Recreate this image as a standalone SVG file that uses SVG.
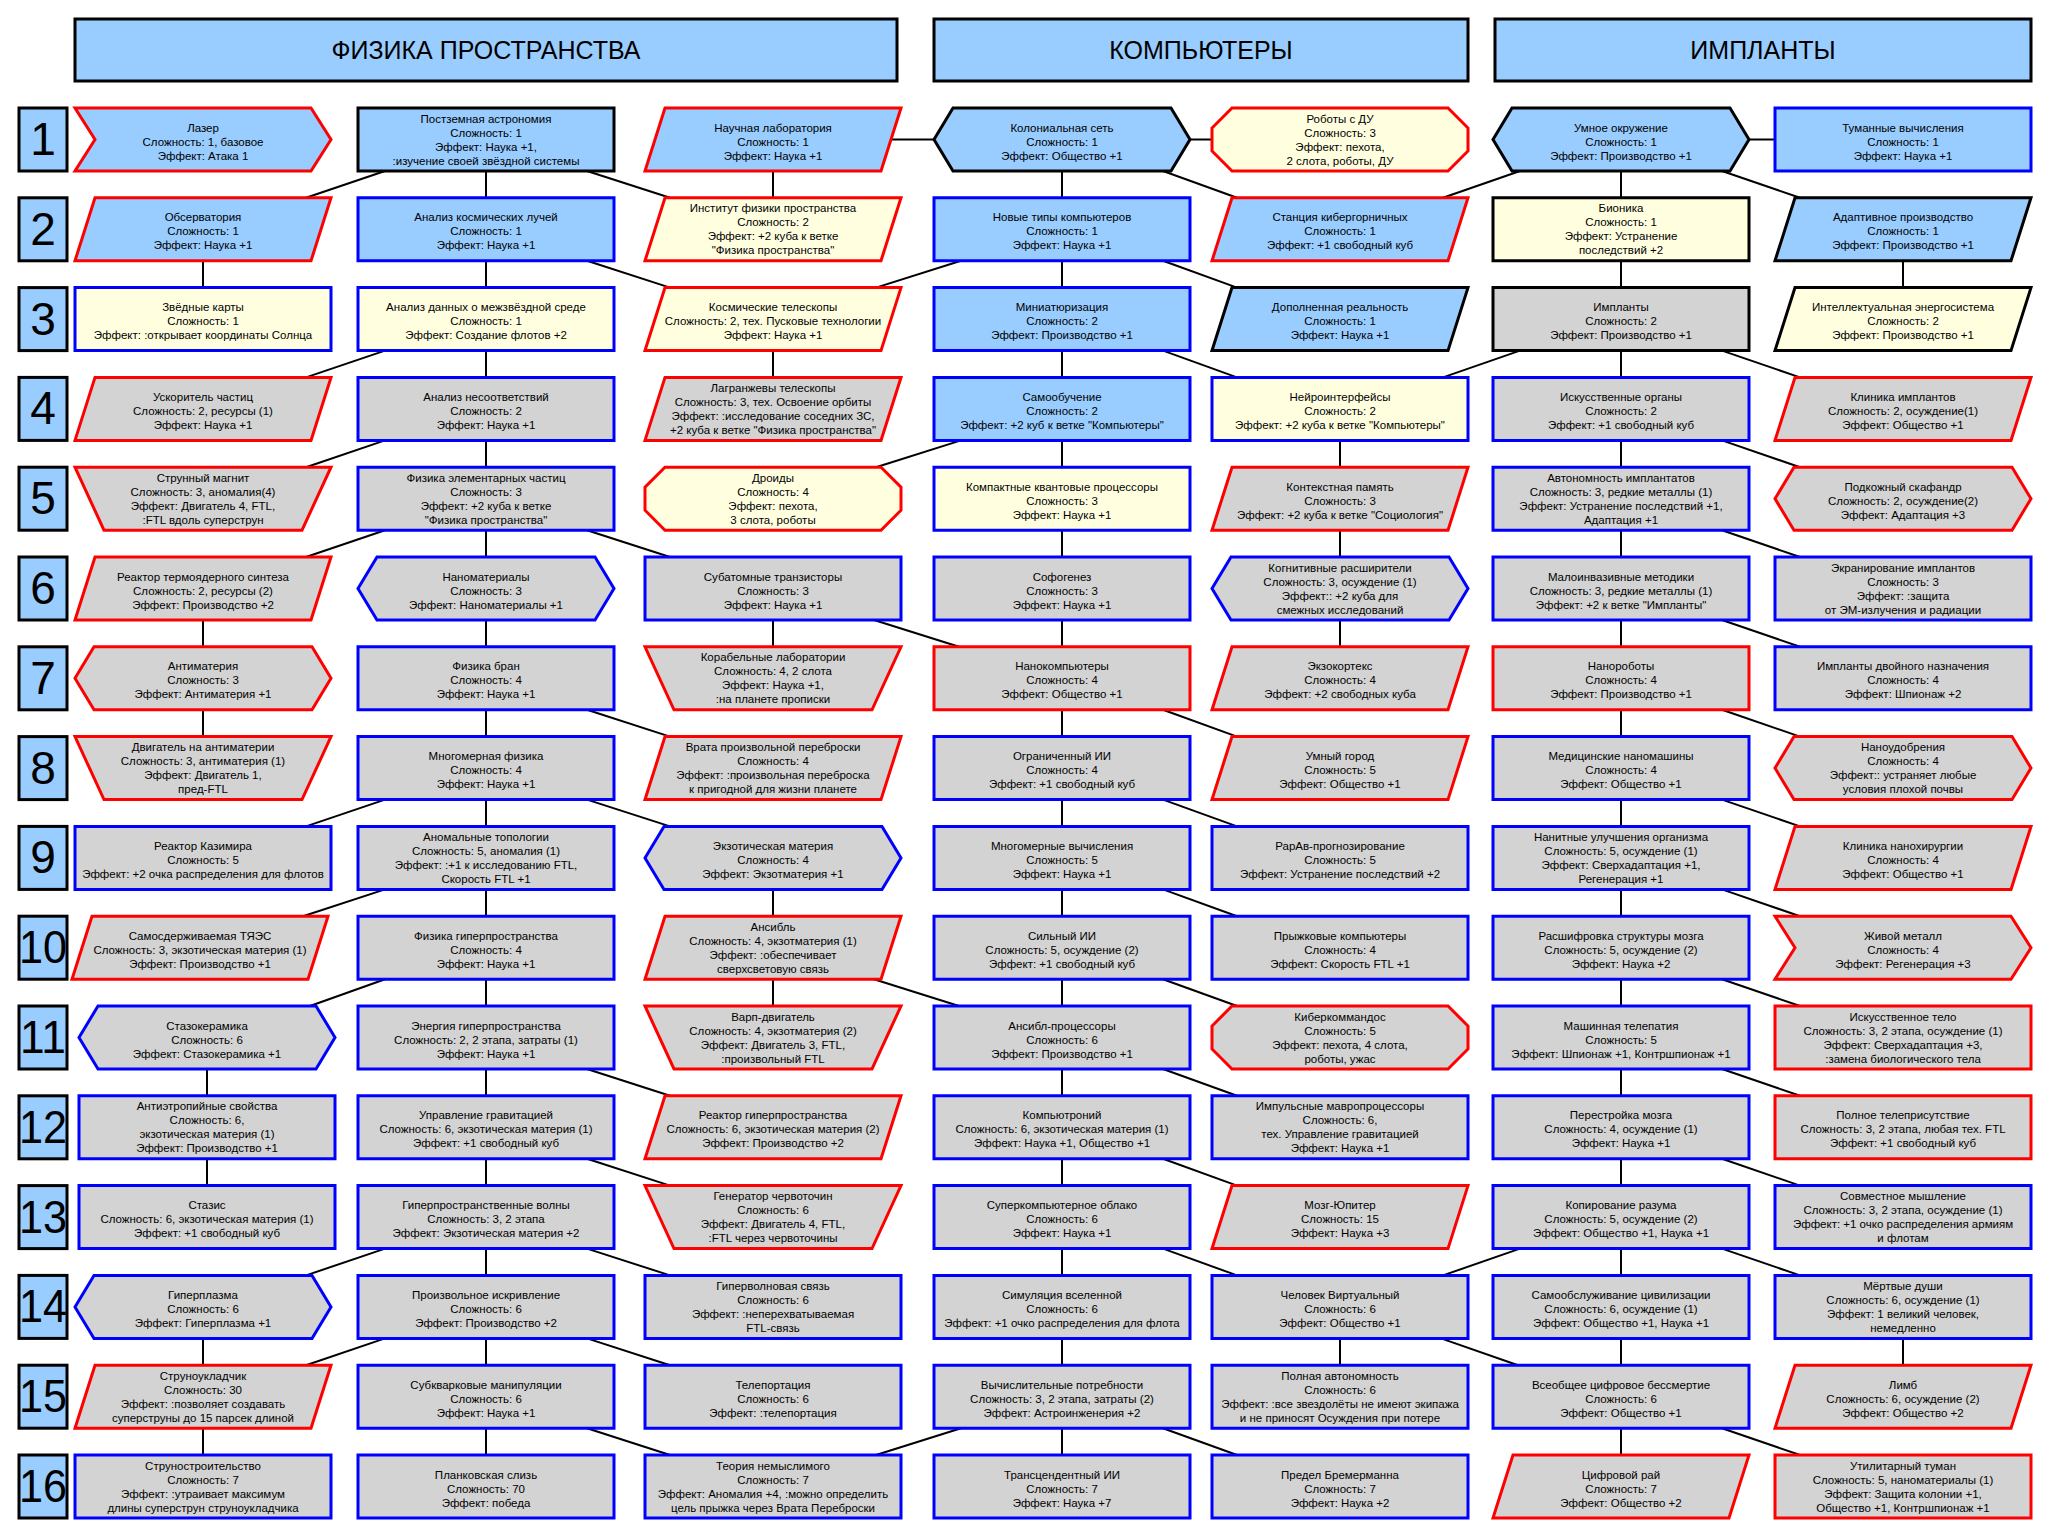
<svg xmlns="http://www.w3.org/2000/svg" width="2061" height="1535" viewBox="0 0 2061 1535">
<style>
.fb{fill:#99CCFF}.fy{fill:#FFFFE0}.fg{fill:#D3D3D3}
.sr{stroke:#FF0000}.sb{stroke:#0000FF}.sk{stroke:#000000}
use{stroke-width:3;stroke-linejoin:miter}
.t{font-family:"Liberation Sans",Arial,sans-serif;font-size:11.5px;text-anchor:middle;fill:#000}
.conn line{stroke:#000;stroke-width:2}
.hdr rect,.num rect{fill:#99CCFF;stroke:#000;stroke-width:3}
.hdr text{font-family:"Liberation Sans",Arial,sans-serif;font-size:25px;text-anchor:middle;fill:#000}
.num text{font-family:"Liberation Sans",Arial,sans-serif;font-size:46px;text-anchor:middle;fill:#000}
</style>
<defs>
<path id="s-rect" d="M0,0H256V63H0Z"/>
<path id="s-para" d="M20,0H256L236,63H0Z"/>
<path id="s-trap" d="M0,0H256L227,63H29Z"/>
<path id="s-hex" d="M0,31.5L19,0H237L256,31.5L237,63H19Z"/>
<path id="s-oct" d="M20,0H236L256,20V43L236,63H20L0,43V20Z"/>
<path id="s-chev" d="M0,0H236L256,31.5L236,63H0L20,31.5Z"/>
</defs>
<rect width="2061" height="1535" fill="#fff"/>
<g id="headers" class="hdr">
<g id="h-phys"><rect x="75" y="19" width="822" height="62"/><text x="486" y="59">ФИЗИКА ПРОСТРАНСТВА</text></g>
<g id="h-comp"><rect x="934" y="19" width="534" height="62"/><text x="1201" y="59">КОМПЬЮТЕРЫ</text></g>
<g id="h-impl"><rect x="1495" y="19" width="536" height="62"/><text x="1763" y="59">ИМПЛАНТЫ</text></g>
</g>
<g id="rows" class="num">
<g id="row1"><rect x="19" y="108" width="48" height="63"/><text x="43" y="155">1</text></g>
<g id="row2"><rect x="19" y="197.8" width="48" height="63"/><text x="43" y="244.8">2</text></g>
<g id="row3"><rect x="19" y="287.6" width="48" height="63"/><text x="43" y="334.6">3</text></g>
<g id="row4"><rect x="19" y="377.4" width="48" height="63"/><text x="43" y="424.4">4</text></g>
<g id="row5"><rect x="19" y="467.2" width="48" height="63"/><text x="43" y="514.2">5</text></g>
<g id="row6"><rect x="19" y="557" width="48" height="63"/><text x="43" y="604">6</text></g>
<g id="row7"><rect x="19" y="646.8" width="48" height="63"/><text x="43" y="693.8">7</text></g>
<g id="row8"><rect x="19" y="736.6" width="48" height="63"/><text x="43" y="783.6">8</text></g>
<g id="row9"><rect x="19" y="826.4" width="48" height="63"/><text x="43" y="873.4">9</text></g>
<g id="row10"><rect x="19" y="916.2" width="48" height="63"/><text x="43" y="963.2" textLength="48" lengthAdjust="spacingAndGlyphs">10</text></g>
<g id="row11"><rect x="19" y="1006" width="48" height="63"/><text x="43" y="1053" textLength="46" lengthAdjust="spacingAndGlyphs">11</text></g>
<g id="row12"><rect x="19" y="1095.8" width="48" height="63"/><text x="43" y="1142.8" textLength="48" lengthAdjust="spacingAndGlyphs">12</text></g>
<g id="row13"><rect x="19" y="1185.6" width="48" height="63"/><text x="43" y="1232.6" textLength="48" lengthAdjust="spacingAndGlyphs">13</text></g>
<g id="row14"><rect x="19" y="1275.4" width="48" height="63"/><text x="43" y="1322.4" textLength="48" lengthAdjust="spacingAndGlyphs">14</text></g>
<g id="row15"><rect x="19" y="1365.2" width="48" height="63"/><text x="43" y="1412.2" textLength="48" lengthAdjust="spacingAndGlyphs">15</text></g>
<g id="row16"><rect x="19" y="1455" width="48" height="63"/><text x="43" y="1502" textLength="48" lengthAdjust="spacingAndGlyphs">16</text></g>
</g>
<g id="connectors" class="conn">
<line x1="891" y1="139.5" x2="934" y2="139.5"/>
<line x1="1190" y1="139.5" x2="1212" y2="139.5"/>
<line x1="1749" y1="139.5" x2="1775" y2="139.5"/>
<line x1="385" y1="171" x2="306" y2="197.8"/>
<line x1="385" y1="350.6" x2="306" y2="377.4"/>
<line x1="385" y1="440.4" x2="306" y2="467.2"/>
<line x1="385" y1="530.2" x2="306" y2="557"/>
<line x1="385" y1="799.6" x2="306" y2="826.4"/>
<line x1="385" y1="889.4" x2="303" y2="916.2"/>
<line x1="385" y1="979.2" x2="310" y2="1006"/>
<line x1="385" y1="1248.6" x2="306" y2="1275.4"/>
<line x1="385" y1="1338.4" x2="306" y2="1365.2"/>
<line x1="587" y1="171" x2="670" y2="197.8"/>
<line x1="587" y1="260.8" x2="670" y2="287.6"/>
<line x1="587" y1="530.2" x2="670" y2="557"/>
<line x1="587" y1="709.8" x2="670" y2="736.6"/>
<line x1="587" y1="799.6" x2="670" y2="826.4"/>
<line x1="587" y1="1069" x2="670" y2="1095.8"/>
<line x1="587" y1="1158.8" x2="670" y2="1185.6"/>
<line x1="587" y1="1248.6" x2="670" y2="1275.4"/>
<line x1="587" y1="1338.4" x2="670" y2="1365.2"/>
<line x1="587" y1="1428.2" x2="670" y2="1455"/>
<line x1="961" y1="260.8" x2="876" y2="287.6"/>
<line x1="961" y1="440.4" x2="876" y2="467.2"/>
<line x1="961" y1="1428.2" x2="876" y2="1455"/>
<line x1="874" y1="620" x2="959" y2="646.8"/>
<line x1="874" y1="979.2" x2="959" y2="1006"/>
<line x1="1163" y1="171" x2="1237" y2="197.8"/>
<line x1="1163" y1="260.8" x2="1237" y2="287.6"/>
<line x1="1163" y1="350.6" x2="1237" y2="377.4"/>
<line x1="1163" y1="709.8" x2="1237" y2="736.6"/>
<line x1="1163" y1="799.6" x2="1237" y2="826.4"/>
<line x1="1163" y1="889.4" x2="1237" y2="916.2"/>
<line x1="1163" y1="979.2" x2="1237" y2="1006"/>
<line x1="1163" y1="1069" x2="1237" y2="1095.8"/>
<line x1="1163" y1="1158.8" x2="1237" y2="1185.6"/>
<line x1="1163" y1="1248.6" x2="1237" y2="1275.4"/>
<line x1="1163" y1="1428.2" x2="1237" y2="1455"/>
<line x1="1520" y1="171" x2="1443" y2="197.8"/>
<line x1="1520" y1="350.6" x2="1443" y2="377.4"/>
<line x1="1520" y1="1248.6" x2="1443" y2="1275.4"/>
<line x1="1441" y1="1338.4" x2="1518" y2="1365.2"/>
<line x1="1722" y1="171" x2="1800" y2="197.8"/>
<line x1="1722" y1="350.6" x2="1800" y2="377.4"/>
<line x1="1722" y1="440.4" x2="1800" y2="467.2"/>
<line x1="1722" y1="530.2" x2="1800" y2="557"/>
<line x1="1722" y1="620" x2="1800" y2="646.8"/>
<line x1="1722" y1="709.8" x2="1800" y2="736.6"/>
<line x1="1722" y1="799.6" x2="1800" y2="826.4"/>
<line x1="1722" y1="889.4" x2="1800" y2="916.2"/>
<line x1="1722" y1="979.2" x2="1800" y2="1006"/>
<line x1="1722" y1="1069" x2="1800" y2="1095.8"/>
<line x1="1722" y1="1158.8" x2="1800" y2="1185.6"/>
<line x1="1722" y1="1248.6" x2="1800" y2="1275.4"/>
<line x1="1722" y1="1428.2" x2="1800" y2="1455"/>
<line x1="203" y1="260.8" x2="203" y2="287.6"/>
<line x1="203" y1="620" x2="203" y2="646.8"/>
<line x1="203" y1="709.8" x2="203" y2="736.6"/>
<line x1="207" y1="1069" x2="207" y2="1095.8"/>
<line x1="207" y1="1158.8" x2="207" y2="1185.6"/>
<line x1="203" y1="1338.4" x2="203" y2="1365.2"/>
<line x1="203" y1="1428.2" x2="203" y2="1455"/>
<line x1="486" y1="171" x2="486" y2="1455"/>
<line x1="773" y1="171" x2="773" y2="197.8"/>
<line x1="773" y1="350.6" x2="773" y2="377.4"/>
<line x1="773" y1="620" x2="773" y2="646.8"/>
<line x1="773" y1="889.4" x2="773" y2="916.2"/>
<line x1="773" y1="979.2" x2="773" y2="1006"/>
<line x1="1062" y1="171" x2="1062" y2="1455"/>
<line x1="1340" y1="440.4" x2="1340" y2="467.2"/>
<line x1="1340" y1="530.2" x2="1340" y2="557"/>
<line x1="1340" y1="620" x2="1340" y2="646.8"/>
<line x1="1340" y1="1338.4" x2="1340" y2="1365.2"/>
<line x1="1621" y1="171" x2="1621" y2="1455"/>
<line x1="1903" y1="260.8" x2="1903" y2="287.6"/>
<line x1="1903" y1="1338.4" x2="1903" y2="1365.2"/>
</g>
<g id="nodes">
<!-- Row 1 -->
<g id="r1c1" transform="translate(75,108)"><use href="#s-chev" class="fb sr"/><text class="t"><tspan x="128" y="23.5">Лазер</tspan><tspan x="128" y="37.5">Сложность: 1, базовое</tspan><tspan x="128" y="51.5">Эффект: Атака 1</tspan></text></g>
<g id="r1c2" transform="translate(358,108)"><use href="#s-rect" class="fb sk"/><text class="t"><tspan x="128" y="14.5">Постземная астрономия</tspan><tspan x="128" y="28.5">Сложность: 1</tspan><tspan x="128" y="42.5">Эффект: Наука +1,</tspan><tspan x="128" y="56.5">:изучение своей звёздной системы</tspan></text></g>
<g id="r1c3" transform="translate(645,108)"><use href="#s-para" class="fb sr"/><text class="t"><tspan x="128" y="23.5">Научная лаборатория</tspan><tspan x="128" y="37.5">Сложность: 1</tspan><tspan x="128" y="51.5">Эффект: Наука +1</tspan></text></g>
<g id="r1c4" transform="translate(934,108)"><use href="#s-hex" class="fb sk"/><text class="t"><tspan x="128" y="23.5">Колониальная сеть</tspan><tspan x="128" y="37.5">Сложность: 1</tspan><tspan x="128" y="51.5">Эффект: Общество +1</tspan></text></g>
<g id="r1c5" transform="translate(1212,108)"><use href="#s-oct" class="fy sr"/><text class="t"><tspan x="128" y="14.5">Роботы с ДУ</tspan><tspan x="128" y="28.5">Сложность: 3</tspan><tspan x="128" y="42.5">Эффект: пехота,</tspan><tspan x="128" y="56.5">2 слота, роботы, ДУ</tspan></text></g>
<g id="r1c6" transform="translate(1493,108)"><use href="#s-hex" class="fb sk"/><text class="t"><tspan x="128" y="23.5">Умное окружение</tspan><tspan x="128" y="37.5">Сложность: 1</tspan><tspan x="128" y="51.5">Эффект: Производство +1</tspan></text></g>
<g id="r1c7" transform="translate(1775,108)"><use href="#s-rect" class="fb sb"/><text class="t"><tspan x="128" y="23.5">Туманные вычисления</tspan><tspan x="128" y="37.5">Сложность: 1</tspan><tspan x="128" y="51.5">Эффект: Наука +1</tspan></text></g>
<!-- Row 2 -->
<g id="r2c1" transform="translate(75,197.8)"><use href="#s-para" class="fb sr"/><text class="t"><tspan x="128" y="23.5">Обсерватория</tspan><tspan x="128" y="37.5">Сложность: 1</tspan><tspan x="128" y="51.5">Эффект: Наука +1</tspan></text></g>
<g id="r2c2" transform="translate(358,197.8)"><use href="#s-rect" class="fb sb"/><text class="t"><tspan x="128" y="23.5">Анализ космических лучей</tspan><tspan x="128" y="37.5">Сложность: 1</tspan><tspan x="128" y="51.5">Эффект: Наука +1</tspan></text></g>
<g id="r2c3" transform="translate(645,197.8)"><use href="#s-para" class="fy sr"/><text class="t"><tspan x="128" y="14.5">Институт физики пространства</tspan><tspan x="128" y="28.5">Сложность: 2</tspan><tspan x="128" y="42.5">Эффект: +2 куба к ветке</tspan><tspan x="128" y="56.5">"Физика пространства"</tspan></text></g>
<g id="r2c4" transform="translate(934,197.8)"><use href="#s-rect" class="fb sb"/><text class="t"><tspan x="128" y="23.5">Новые типы компьютеров</tspan><tspan x="128" y="37.5">Сложность: 1</tspan><tspan x="128" y="51.5">Эффект: Наука +1</tspan></text></g>
<g id="r2c5" transform="translate(1212,197.8)"><use href="#s-para" class="fb sr"/><text class="t"><tspan x="128" y="23.5">Станция кибергорничных</tspan><tspan x="128" y="37.5">Сложность: 1</tspan><tspan x="128" y="51.5">Эффект: +1 свободный куб</tspan></text></g>
<g id="r2c6" transform="translate(1493,197.8)"><use href="#s-rect" class="fy sk"/><text class="t"><tspan x="128" y="14.5">Бионика</tspan><tspan x="128" y="28.5">Сложность: 1</tspan><tspan x="128" y="42.5">Эффект: Устранение</tspan><tspan x="128" y="56.5">последствий +2</tspan></text></g>
<g id="r2c7" transform="translate(1775,197.8)"><use href="#s-para" class="fb sk"/><text class="t"><tspan x="128" y="23.5">Адаптивное производство</tspan><tspan x="128" y="37.5">Сложность: 1</tspan><tspan x="128" y="51.5">Эффект: Производство +1</tspan></text></g>
<!-- Row 3 -->
<g id="r3c1" transform="translate(75,287.6)"><use href="#s-rect" class="fy sb"/><text class="t"><tspan x="128" y="23.5">Звёдные карты</tspan><tspan x="128" y="37.5">Сложность: 1</tspan><tspan x="128" y="51.5">Эффект: :открывает координаты Солнца</tspan></text></g>
<g id="r3c2" transform="translate(358,287.6)"><use href="#s-rect" class="fy sb"/><text class="t"><tspan x="128" y="23.5">Анализ данных о межзвёздной среде</tspan><tspan x="128" y="37.5">Сложность: 1</tspan><tspan x="128" y="51.5">Эффект: Создание флотов +2</tspan></text></g>
<g id="r3c3" transform="translate(645,287.6)"><use href="#s-para" class="fy sr"/><text class="t"><tspan x="128" y="23.5">Космические телескопы</tspan><tspan x="128" y="37.5">Сложность: 2, тех. Пусковые технологии</tspan><tspan x="128" y="51.5">Эффект: Наука +1</tspan></text></g>
<g id="r3c4" transform="translate(934,287.6)"><use href="#s-rect" class="fb sb"/><text class="t"><tspan x="128" y="23.5">Миниатюризация</tspan><tspan x="128" y="37.5">Сложность: 2</tspan><tspan x="128" y="51.5">Эффект: Производство +1</tspan></text></g>
<g id="r3c5" transform="translate(1212,287.6)"><use href="#s-para" class="fb sk"/><text class="t"><tspan x="128" y="23.5">Дополненная реальность</tspan><tspan x="128" y="37.5">Сложность: 1</tspan><tspan x="128" y="51.5">Эффект: Наука +1</tspan></text></g>
<g id="r3c6" transform="translate(1493,287.6)"><use href="#s-rect" class="fg sk"/><text class="t"><tspan x="128" y="23.5">Импланты</tspan><tspan x="128" y="37.5">Сложность: 2</tspan><tspan x="128" y="51.5">Эффект: Производство +1</tspan></text></g>
<g id="r3c7" transform="translate(1775,287.6)"><use href="#s-para" class="fy sk"/><text class="t"><tspan x="128" y="23.5">Интеллектуальная энергосистема</tspan><tspan x="128" y="37.5">Сложность: 2</tspan><tspan x="128" y="51.5">Эффект: Производство +1</tspan></text></g>
<!-- Row 4 -->
<g id="r4c1" transform="translate(75,377.4)"><use href="#s-para" class="fg sr"/><text class="t"><tspan x="128" y="23.5">Ускоритель частиц</tspan><tspan x="128" y="37.5">Сложность: 2, ресурсы (1)</tspan><tspan x="128" y="51.5">Эффект: Наука +1</tspan></text></g>
<g id="r4c2" transform="translate(358,377.4)"><use href="#s-rect" class="fg sb"/><text class="t"><tspan x="128" y="23.5">Анализ несоответствий</tspan><tspan x="128" y="37.5">Сложность: 2</tspan><tspan x="128" y="51.5">Эффект: Наука +1</tspan></text></g>
<g id="r4c3" transform="translate(645,377.4)"><use href="#s-para" class="fg sr"/><text class="t"><tspan x="128" y="14.5">Лагранжевы телескопы</tspan><tspan x="128" y="28.5">Сложность: 3, тех. Освоение орбиты</tspan><tspan x="128" y="42.5">Эффект: :исследование соседних ЗС,</tspan><tspan x="128" y="56.5">+2 куба к ветке "Физика пространства"</tspan></text></g>
<g id="r4c4" transform="translate(934,377.4)"><use href="#s-rect" class="fb sb"/><text class="t"><tspan x="128" y="23.5">Самообучение</tspan><tspan x="128" y="37.5">Сложность: 2</tspan><tspan x="128" y="51.5">Эффект: +2 куб к ветке "Компьютеры"</tspan></text></g>
<g id="r4c5" transform="translate(1212,377.4)"><use href="#s-rect" class="fy sb"/><text class="t"><tspan x="128" y="23.5">Нейроинтерфейсы</tspan><tspan x="128" y="37.5">Сложность: 2</tspan><tspan x="128" y="51.5">Эффект: +2 куба к ветке "Компьютеры"</tspan></text></g>
<g id="r4c6" transform="translate(1493,377.4)"><use href="#s-rect" class="fg sb"/><text class="t"><tspan x="128" y="23.5">Искусственные органы</tspan><tspan x="128" y="37.5">Сложность: 2</tspan><tspan x="128" y="51.5">Эффект: +1 свободный куб</tspan></text></g>
<g id="r4c7" transform="translate(1775,377.4)"><use href="#s-para" class="fg sr"/><text class="t"><tspan x="128" y="23.5">Клиника имплантов</tspan><tspan x="128" y="37.5">Сложность: 2, осуждение(1)</tspan><tspan x="128" y="51.5">Эффект: Общество +1</tspan></text></g>
<!-- Row 5 -->
<g id="r5c1" transform="translate(75,467.2)"><use href="#s-trap" class="fg sr"/><text class="t"><tspan x="128" y="14.5">Струнный магнит</tspan><tspan x="128" y="28.5">Сложность: 3, аномалия(4)</tspan><tspan x="128" y="42.5">Эффект: Двигатель 4, FTL,</tspan><tspan x="128" y="56.5">:FTL вдоль суперструн</tspan></text></g>
<g id="r5c2" transform="translate(358,467.2)"><use href="#s-rect" class="fg sb"/><text class="t"><tspan x="128" y="14.5">Физика элементарных частиц</tspan><tspan x="128" y="28.5">Сложность: 3</tspan><tspan x="128" y="42.5">Эффект: +2 куба к ветке</tspan><tspan x="128" y="56.5">"Физика пространства"</tspan></text></g>
<g id="r5c3" transform="translate(645,467.2)"><use href="#s-oct" class="fy sr"/><text class="t"><tspan x="128" y="14.5">Дроиды</tspan><tspan x="128" y="28.5">Сложность: 4</tspan><tspan x="128" y="42.5">Эффект: пехота,</tspan><tspan x="128" y="56.5">3 слота, роботы</tspan></text></g>
<g id="r5c4" transform="translate(934,467.2)"><use href="#s-rect" class="fy sb"/><text class="t"><tspan x="128" y="23.5">Компактные квантовые процессоры</tspan><tspan x="128" y="37.5">Сложность: 3</tspan><tspan x="128" y="51.5">Эффект: Наука +1</tspan></text></g>
<g id="r5c5" transform="translate(1212,467.2)"><use href="#s-para" class="fg sr"/><text class="t"><tspan x="128" y="23.5">Контекстная память</tspan><tspan x="128" y="37.5">Сложность: 3</tspan><tspan x="128" y="51.5">Эффект: +2 куба к ветке "Социология"</tspan></text></g>
<g id="r5c6" transform="translate(1493,467.2)"><use href="#s-rect" class="fg sb"/><text class="t"><tspan x="128" y="14.5">Автономность имплантатов</tspan><tspan x="128" y="28.5">Сложность: 3, редкие металлы (1)</tspan><tspan x="128" y="42.5">Эффект: Устранение последствий +1,</tspan><tspan x="128" y="56.5">Адаптация +1</tspan></text></g>
<g id="r5c7" transform="translate(1775,467.2)"><use href="#s-hex" class="fg sr"/><text class="t"><tspan x="128" y="23.5">Подкожный скафандр</tspan><tspan x="128" y="37.5">Сложность: 2, осуждение(2)</tspan><tspan x="128" y="51.5">Эффект: Адаптация +3</tspan></text></g>
<!-- Row 6 -->
<g id="r6c1" transform="translate(75,557)"><use href="#s-para" class="fg sr"/><text class="t"><tspan x="128" y="23.5">Реактор термоядерного синтеза</tspan><tspan x="128" y="37.5">Сложность: 2, ресурсы (2)</tspan><tspan x="128" y="51.5">Эффект: Производство +2</tspan></text></g>
<g id="r6c2" transform="translate(358,557)"><use href="#s-hex" class="fg sb"/><text class="t"><tspan x="128" y="23.5">Наноматериалы</tspan><tspan x="128" y="37.5">Сложность: 3</tspan><tspan x="128" y="51.5">Эффект: Наноматериалы +1</tspan></text></g>
<g id="r6c3" transform="translate(645,557)"><use href="#s-rect" class="fg sb"/><text class="t"><tspan x="128" y="23.5">Субатомные транзисторы</tspan><tspan x="128" y="37.5">Сложность: 3</tspan><tspan x="128" y="51.5">Эффект: Наука +1</tspan></text></g>
<g id="r6c4" transform="translate(934,557)"><use href="#s-rect" class="fg sb"/><text class="t"><tspan x="128" y="23.5">Софогенез</tspan><tspan x="128" y="37.5">Сложность: 3</tspan><tspan x="128" y="51.5">Эффект: Наука +1</tspan></text></g>
<g id="r6c5" transform="translate(1212,557)"><use href="#s-hex" class="fg sb"/><text class="t"><tspan x="128" y="14.5">Когнитивные расширители</tspan><tspan x="128" y="28.5">Сложность: 3, осуждение (1)</tspan><tspan x="128" y="42.5">Эффект:: +2 куба для</tspan><tspan x="128" y="56.5">смежных исследований</tspan></text></g>
<g id="r6c6" transform="translate(1493,557)"><use href="#s-rect" class="fg sb"/><text class="t"><tspan x="128" y="23.5">Малоинвазивные методики</tspan><tspan x="128" y="37.5">Сложность: 3, редкие металлы (1)</tspan><tspan x="128" y="51.5">Эффект: +2 к ветке "Импланты"</tspan></text></g>
<g id="r6c7" transform="translate(1775,557)"><use href="#s-rect" class="fg sb"/><text class="t"><tspan x="128" y="14.5">Экранирование имплантов</tspan><tspan x="128" y="28.5">Сложность: 3</tspan><tspan x="128" y="42.5">Эффект: :защита</tspan><tspan x="128" y="56.5">от ЭМ-излучения и радиации</tspan></text></g>
<!-- Row 7 -->
<g id="r7c1" transform="translate(75,646.8)"><use href="#s-hex" class="fg sr"/><text class="t"><tspan x="128" y="23.5">Антиматерия</tspan><tspan x="128" y="37.5">Сложность: 3</tspan><tspan x="128" y="51.5">Эффект: Антиматерия +1</tspan></text></g>
<g id="r7c2" transform="translate(358,646.8)"><use href="#s-rect" class="fg sb"/><text class="t"><tspan x="128" y="23.5">Физика бран</tspan><tspan x="128" y="37.5">Сложность: 4</tspan><tspan x="128" y="51.5">Эффект: Наука +1</tspan></text></g>
<g id="r7c3" transform="translate(645,646.8)"><use href="#s-trap" class="fg sr"/><text class="t"><tspan x="128" y="14.5">Корабельные лаборатории</tspan><tspan x="128" y="28.5">Сложность: 4, 2 слота</tspan><tspan x="128" y="42.5">Эффект: Наука +1,</tspan><tspan x="128" y="56.5">:на планете прописки</tspan></text></g>
<g id="r7c4" transform="translate(934,646.8)"><use href="#s-rect" class="fg sr"/><text class="t"><tspan x="128" y="23.5">Нанокомпьютеры</tspan><tspan x="128" y="37.5">Сложность: 4</tspan><tspan x="128" y="51.5">Эффект: Общество +1</tspan></text></g>
<g id="r7c5" transform="translate(1212,646.8)"><use href="#s-para" class="fg sr"/><text class="t"><tspan x="128" y="23.5">Экзокортекс</tspan><tspan x="128" y="37.5">Сложность: 4</tspan><tspan x="128" y="51.5">Эффект: +2 свободных куба</tspan></text></g>
<g id="r7c6" transform="translate(1493,646.8)"><use href="#s-rect" class="fg sr"/><text class="t"><tspan x="128" y="23.5">Нанороботы</tspan><tspan x="128" y="37.5">Сложность: 4</tspan><tspan x="128" y="51.5">Эффект: Производство +1</tspan></text></g>
<g id="r7c7" transform="translate(1775,646.8)"><use href="#s-rect" class="fg sb"/><text class="t"><tspan x="128" y="23.5">Импланты двойного назначения</tspan><tspan x="128" y="37.5">Сложность: 4</tspan><tspan x="128" y="51.5">Эффект: Шпионаж +2</tspan></text></g>
<!-- Row 8 -->
<g id="r8c1" transform="translate(75,736.6)"><use href="#s-trap" class="fg sr"/><text class="t"><tspan x="128" y="14.5">Двигатель на антиматерии</tspan><tspan x="128" y="28.5">Сложность: 3, антиматерия (1)</tspan><tspan x="128" y="42.5">Эффект: Двигатель 1,</tspan><tspan x="128" y="56.5">пред-FTL</tspan></text></g>
<g id="r8c2" transform="translate(358,736.6)"><use href="#s-rect" class="fg sb"/><text class="t"><tspan x="128" y="23.5">Многомерная физика</tspan><tspan x="128" y="37.5">Сложность: 4</tspan><tspan x="128" y="51.5">Эффект: Наука +1</tspan></text></g>
<g id="r8c3" transform="translate(645,736.6)"><use href="#s-para" class="fg sr"/><text class="t"><tspan x="128" y="14.5">Врата произвольной переброски</tspan><tspan x="128" y="28.5">Сложность: 4</tspan><tspan x="128" y="42.5">Эффект: :произвольная переброска</tspan><tspan x="128" y="56.5">к пригодной для жизни планете</tspan></text></g>
<g id="r8c4" transform="translate(934,736.6)"><use href="#s-rect" class="fg sb"/><text class="t"><tspan x="128" y="23.5">Ограниченный ИИ</tspan><tspan x="128" y="37.5">Сложность: 4</tspan><tspan x="128" y="51.5">Эффект: +1 свободный куб</tspan></text></g>
<g id="r8c5" transform="translate(1212,736.6)"><use href="#s-para" class="fg sr"/><text class="t"><tspan x="128" y="23.5">Умный город</tspan><tspan x="128" y="37.5">Сложность: 5</tspan><tspan x="128" y="51.5">Эффект: Общество +1</tspan></text></g>
<g id="r8c6" transform="translate(1493,736.6)"><use href="#s-rect" class="fg sb"/><text class="t"><tspan x="128" y="23.5">Медицинские наномашины</tspan><tspan x="128" y="37.5">Сложность: 4</tspan><tspan x="128" y="51.5">Эффект: Общество +1</tspan></text></g>
<g id="r8c7" transform="translate(1775,736.6)"><use href="#s-hex" class="fg sr"/><text class="t"><tspan x="128" y="14.5">Наноудобрения</tspan><tspan x="128" y="28.5">Сложность: 4</tspan><tspan x="128" y="42.5">Эффект:: устраняет любые</tspan><tspan x="128" y="56.5">условия плохой почвы</tspan></text></g>
<!-- Row 9 -->
<g id="r9c1" transform="translate(75,826.4)"><use href="#s-rect" class="fg sb"/><text class="t"><tspan x="128" y="23.5">Реактор Казимира</tspan><tspan x="128" y="37.5">Сложность: 5</tspan><tspan x="128" y="51.5">Эффект: +2 очка распределения для флотов</tspan></text></g>
<g id="r9c2" transform="translate(358,826.4)"><use href="#s-rect" class="fg sb"/><text class="t"><tspan x="128" y="14.5">Аномальные топологии</tspan><tspan x="128" y="28.5">Сложность: 5, аномалия (1)</tspan><tspan x="128" y="42.5">Эффект: :+1 к исследованию FTL,</tspan><tspan x="128" y="56.5">Скорость FTL +1</tspan></text></g>
<g id="r9c3" transform="translate(645,826.4)"><use href="#s-hex" class="fg sb"/><text class="t"><tspan x="128" y="23.5">Экзотическая материя</tspan><tspan x="128" y="37.5">Сложность: 4</tspan><tspan x="128" y="51.5">Эффект: Экзотматерия +1</tspan></text></g>
<g id="r9c4" transform="translate(934,826.4)"><use href="#s-rect" class="fg sb"/><text class="t"><tspan x="128" y="23.5">Многомерные вычисления</tspan><tspan x="128" y="37.5">Сложность: 5</tspan><tspan x="128" y="51.5">Эффект: Наука +1</tspan></text></g>
<g id="r9c5" transform="translate(1212,826.4)"><use href="#s-rect" class="fg sb"/><text class="t"><tspan x="128" y="23.5">РарАв-прогнозирование</tspan><tspan x="128" y="37.5">Сложность: 5</tspan><tspan x="128" y="51.5">Эффект: Устранение последствий +2</tspan></text></g>
<g id="r9c6" transform="translate(1493,826.4)"><use href="#s-rect" class="fg sb"/><text class="t"><tspan x="128" y="14.5">Нанитные улучшения организма</tspan><tspan x="128" y="28.5">Сложность: 5, осуждение (1)</tspan><tspan x="128" y="42.5">Эффект: Сверхадаптация +1,</tspan><tspan x="128" y="56.5">Регенерация +1</tspan></text></g>
<g id="r9c7" transform="translate(1775,826.4)"><use href="#s-para" class="fg sr"/><text class="t"><tspan x="128" y="23.5">Клиника нанохирургии</tspan><tspan x="128" y="37.5">Сложность: 4</tspan><tspan x="128" y="51.5">Эффект: Общество +1</tspan></text></g>
<!-- Row 10 -->
<g id="r10c1" transform="translate(72,916.2)"><use href="#s-para" class="fg sr"/><text class="t"><tspan x="128" y="23.5">Самосдерживаемая ТЯЭС</tspan><tspan x="128" y="37.5">Сложность: 3, экзотическая материя (1)</tspan><tspan x="128" y="51.5">Эффект: Производство +1</tspan></text></g>
<g id="r10c2" transform="translate(358,916.2)"><use href="#s-rect" class="fg sb"/><text class="t"><tspan x="128" y="23.5">Физика гиперпространства</tspan><tspan x="128" y="37.5">Сложность: 4</tspan><tspan x="128" y="51.5">Эффект: Наука +1</tspan></text></g>
<g id="r10c3" transform="translate(645,916.2)"><use href="#s-para" class="fg sr"/><text class="t"><tspan x="128" y="14.5">Ансибль</tspan><tspan x="128" y="28.5">Сложность: 4, экзотматерия (1)</tspan><tspan x="128" y="42.5">Эффект: :обеспечивает</tspan><tspan x="128" y="56.5">сверхсветовую связь</tspan></text></g>
<g id="r10c4" transform="translate(934,916.2)"><use href="#s-rect" class="fg sb"/><text class="t"><tspan x="128" y="23.5">Сильный ИИ</tspan><tspan x="128" y="37.5">Сложность: 5, осуждение (2)</tspan><tspan x="128" y="51.5">Эффект: +1 свободный куб</tspan></text></g>
<g id="r10c5" transform="translate(1212,916.2)"><use href="#s-rect" class="fg sb"/><text class="t"><tspan x="128" y="23.5">Прыжковые компьютеры</tspan><tspan x="128" y="37.5">Сложность: 4</tspan><tspan x="128" y="51.5">Эффект: Скорость FTL +1</tspan></text></g>
<g id="r10c6" transform="translate(1493,916.2)"><use href="#s-rect" class="fg sb"/><text class="t"><tspan x="128" y="23.5">Расшифровка структуры мозга</tspan><tspan x="128" y="37.5">Сложность: 5, осуждение (2)</tspan><tspan x="128" y="51.5">Эффект: Наука +2</tspan></text></g>
<g id="r10c7" transform="translate(1775,916.2)"><use href="#s-chev" class="fg sr"/><text class="t"><tspan x="128" y="23.5">Живой металл</tspan><tspan x="128" y="37.5">Сложность: 4</tspan><tspan x="128" y="51.5">Эффект: Регенерация +3</tspan></text></g>
<!-- Row 11 -->
<g id="r11c1" transform="translate(79,1006)"><use href="#s-hex" class="fg sb"/><text class="t"><tspan x="128" y="23.5">Стазокерамика</tspan><tspan x="128" y="37.5">Сложность: 6</tspan><tspan x="128" y="51.5">Эффект: Стазокерамика +1</tspan></text></g>
<g id="r11c2" transform="translate(358,1006)"><use href="#s-rect" class="fg sb"/><text class="t"><tspan x="128" y="23.5">Энергия гиперпространства</tspan><tspan x="128" y="37.5">Сложность: 2, 2 этапа, затраты (1)</tspan><tspan x="128" y="51.5">Эффект: Наука +1</tspan></text></g>
<g id="r11c3" transform="translate(645,1006)"><use href="#s-trap" class="fg sr"/><text class="t"><tspan x="128" y="14.5">Варп-двигатель</tspan><tspan x="128" y="28.5">Сложность: 4, экзотматерия (2)</tspan><tspan x="128" y="42.5">Эффект: Двигатель 3, FTL,</tspan><tspan x="128" y="56.5">:произвольный FTL</tspan></text></g>
<g id="r11c4" transform="translate(934,1006)"><use href="#s-rect" class="fg sb"/><text class="t"><tspan x="128" y="23.5">Ансибл-процессоры</tspan><tspan x="128" y="37.5">Сложность: 6</tspan><tspan x="128" y="51.5">Эффект: Производство +1</tspan></text></g>
<g id="r11c5" transform="translate(1212,1006)"><use href="#s-oct" class="fg sr"/><text class="t"><tspan x="128" y="14.5">Киберкоммандос</tspan><tspan x="128" y="28.5">Сложность: 5</tspan><tspan x="128" y="42.5">Эффект: пехота, 4 слота,</tspan><tspan x="128" y="56.5">роботы, ужас</tspan></text></g>
<g id="r11c6" transform="translate(1493,1006)"><use href="#s-rect" class="fg sb"/><text class="t"><tspan x="128" y="23.5">Машинная телепатия</tspan><tspan x="128" y="37.5">Сложность: 5</tspan><tspan x="128" y="51.5">Эффект: Шпионаж +1, Контршпионаж +1</tspan></text></g>
<g id="r11c7" transform="translate(1775,1006)"><use href="#s-rect" class="fg sr"/><text class="t"><tspan x="128" y="14.5">Искусственное тело</tspan><tspan x="128" y="28.5">Сложность: 3, 2 этапа, осуждение (1)</tspan><tspan x="128" y="42.5">Эффект: Сверхадаптация +3,</tspan><tspan x="128" y="56.5">:замена биологического тела</tspan></text></g>
<!-- Row 12 -->
<g id="r12c1" transform="translate(79,1095.8)"><use href="#s-rect" class="fg sb"/><text class="t"><tspan x="128" y="14.5">Антиэтропийные свойства</tspan><tspan x="128" y="28.5">Сложность: 6,</tspan><tspan x="128" y="42.5">экзотическая материя (1)</tspan><tspan x="128" y="56.5">Эффект: Производство +1</tspan></text></g>
<g id="r12c2" transform="translate(358,1095.8)"><use href="#s-rect" class="fg sb"/><text class="t"><tspan x="128" y="23.5">Управление гравитацией</tspan><tspan x="128" y="37.5">Сложность: 6, экзотическая материя (1)</tspan><tspan x="128" y="51.5">Эффект: +1 свободный куб</tspan></text></g>
<g id="r12c3" transform="translate(645,1095.8)"><use href="#s-para" class="fg sr"/><text class="t"><tspan x="128" y="23.5">Реактор гиперпространства</tspan><tspan x="128" y="37.5">Сложность: 6, экзотическая материя (2)</tspan><tspan x="128" y="51.5">Эффект: Производство +2</tspan></text></g>
<g id="r12c4" transform="translate(934,1095.8)"><use href="#s-rect" class="fg sb"/><text class="t"><tspan x="128" y="23.5">Компьютроний</tspan><tspan x="128" y="37.5">Сложность: 6, экзотическая материя (1)</tspan><tspan x="128" y="51.5">Эффект: Наука +1, Общество +1</tspan></text></g>
<g id="r12c5" transform="translate(1212,1095.8)"><use href="#s-rect" class="fg sb"/><text class="t"><tspan x="128" y="14.5">Импульсные мавропроцессоры</tspan><tspan x="128" y="28.5">Сложность: 6,</tspan><tspan x="128" y="42.5">тех. Управление гравитацией</tspan><tspan x="128" y="56.5">Эффект: Наука +1</tspan></text></g>
<g id="r12c6" transform="translate(1493,1095.8)"><use href="#s-rect" class="fg sb"/><text class="t"><tspan x="128" y="23.5">Перестройка мозга</tspan><tspan x="128" y="37.5">Сложность: 4, осуждение (1)</tspan><tspan x="128" y="51.5">Эффект: Наука +1</tspan></text></g>
<g id="r12c7" transform="translate(1775,1095.8)"><use href="#s-rect" class="fg sr"/><text class="t"><tspan x="128" y="23.5">Полное телеприсутствие</tspan><tspan x="128" y="37.5">Сложность: 3, 2 этапа, любая тех. FTL</tspan><tspan x="128" y="51.5">Эффект: +1 свободный куб</tspan></text></g>
<!-- Row 13 -->
<g id="r13c1" transform="translate(79,1185.6)"><use href="#s-rect" class="fg sb"/><text class="t"><tspan x="128" y="23.5">Стазис</tspan><tspan x="128" y="37.5">Сложность: 6, экзотическая материя (1)</tspan><tspan x="128" y="51.5">Эффект: +1 свободный куб</tspan></text></g>
<g id="r13c2" transform="translate(358,1185.6)"><use href="#s-rect" class="fg sb"/><text class="t"><tspan x="128" y="23.5">Гиперпространственные волны</tspan><tspan x="128" y="37.5">Сложность: 3, 2 этапа</tspan><tspan x="128" y="51.5">Эффект: Экзотическая материя +2</tspan></text></g>
<g id="r13c3" transform="translate(645,1185.6)"><use href="#s-trap" class="fg sr"/><text class="t"><tspan x="128" y="14.5">Генератор червоточин</tspan><tspan x="128" y="28.5">Сложность: 6</tspan><tspan x="128" y="42.5">Эффект: Двигатель 4, FTL,</tspan><tspan x="128" y="56.5">:FTL через червоточины</tspan></text></g>
<g id="r13c4" transform="translate(934,1185.6)"><use href="#s-rect" class="fg sb"/><text class="t"><tspan x="128" y="23.5">Суперкомпьютерное облако</tspan><tspan x="128" y="37.5">Сложность: 6</tspan><tspan x="128" y="51.5">Эффект: Наука +1</tspan></text></g>
<g id="r13c5" transform="translate(1212,1185.6)"><use href="#s-para" class="fg sr"/><text class="t"><tspan x="128" y="23.5">Мозг-Юпитер</tspan><tspan x="128" y="37.5">Сложность: 15</tspan><tspan x="128" y="51.5">Эффект: Наука +3</tspan></text></g>
<g id="r13c6" transform="translate(1493,1185.6)"><use href="#s-rect" class="fg sb"/><text class="t"><tspan x="128" y="23.5">Копирование разума</tspan><tspan x="128" y="37.5">Сложность: 5, осуждение (2)</tspan><tspan x="128" y="51.5">Эффект: Общество +1, Наука +1</tspan></text></g>
<g id="r13c7" transform="translate(1775,1185.6)"><use href="#s-rect" class="fg sb"/><text class="t"><tspan x="128" y="14.5">Совместное мышление</tspan><tspan x="128" y="28.5">Сложность: 3, 2 этапа, осуждение (1)</tspan><tspan x="128" y="42.5">Эффект: +1 очко распределения армиям</tspan><tspan x="128" y="56.5">и флотам</tspan></text></g>
<!-- Row 14 -->
<g id="r14c1" transform="translate(75,1275.4)"><use href="#s-hex" class="fg sb"/><text class="t"><tspan x="128" y="23.5">Гиперплазма</tspan><tspan x="128" y="37.5">Сложность: 6</tspan><tspan x="128" y="51.5">Эффект: Гиперплазма +1</tspan></text></g>
<g id="r14c2" transform="translate(358,1275.4)"><use href="#s-rect" class="fg sb"/><text class="t"><tspan x="128" y="23.5">Произвольное искривление</tspan><tspan x="128" y="37.5">Сложность: 6</tspan><tspan x="128" y="51.5">Эффект: Производство +2</tspan></text></g>
<g id="r14c3" transform="translate(645,1275.4)"><use href="#s-rect" class="fg sb"/><text class="t"><tspan x="128" y="14.5">Гиперволновая связь</tspan><tspan x="128" y="28.5">Сложность: 6</tspan><tspan x="128" y="42.5">Эффект: :неперехватываемая</tspan><tspan x="128" y="56.5">FTL-связь</tspan></text></g>
<g id="r14c4" transform="translate(934,1275.4)"><use href="#s-rect" class="fg sb"/><text class="t"><tspan x="128" y="23.5">Симуляция вселенной</tspan><tspan x="128" y="37.5">Сложность: 6</tspan><tspan x="128" y="51.5">Эффект: +1 очко распределения для флота</tspan></text></g>
<g id="r14c5" transform="translate(1212,1275.4)"><use href="#s-rect" class="fg sb"/><text class="t"><tspan x="128" y="23.5">Человек Виртуальный</tspan><tspan x="128" y="37.5">Сложность: 6</tspan><tspan x="128" y="51.5">Эффект: Общество +1</tspan></text></g>
<g id="r14c6" transform="translate(1493,1275.4)"><use href="#s-rect" class="fg sb"/><text class="t"><tspan x="128" y="23.5">Самообслуживание цивилизации</tspan><tspan x="128" y="37.5">Сложность: 6, осуждение (1)</tspan><tspan x="128" y="51.5">Эффект: Общество +1, Наука +1</tspan></text></g>
<g id="r14c7" transform="translate(1775,1275.4)"><use href="#s-rect" class="fg sb"/><text class="t"><tspan x="128" y="14.5">Мёртвые души</tspan><tspan x="128" y="28.5">Сложность: 6, осуждение (1)</tspan><tspan x="128" y="42.5">Эффект: 1 великий человек,</tspan><tspan x="128" y="56.5">немедленно</tspan></text></g>
<!-- Row 15 -->
<g id="r15c1" transform="translate(75,1365.2)"><use href="#s-para" class="fg sr"/><text class="t"><tspan x="128" y="14.5">Струноукладчик</tspan><tspan x="128" y="28.5">Сложность: 30</tspan><tspan x="128" y="42.5">Эффект: :позволяет создавать</tspan><tspan x="128" y="56.5">суперструны до 15 парсек длиной</tspan></text></g>
<g id="r15c2" transform="translate(358,1365.2)"><use href="#s-rect" class="fg sb"/><text class="t"><tspan x="128" y="23.5">Субкварковые манипуляции</tspan><tspan x="128" y="37.5">Сложность: 6</tspan><tspan x="128" y="51.5">Эффект: Наука +1</tspan></text></g>
<g id="r15c3" transform="translate(645,1365.2)"><use href="#s-rect" class="fg sb"/><text class="t"><tspan x="128" y="23.5">Телепортация</tspan><tspan x="128" y="37.5">Сложность: 6</tspan><tspan x="128" y="51.5">Эффект: :телепортация</tspan></text></g>
<g id="r15c4" transform="translate(934,1365.2)"><use href="#s-rect" class="fg sb"/><text class="t"><tspan x="128" y="23.5">Вычислительные потребности</tspan><tspan x="128" y="37.5">Сложность: 3, 2 этапа, затраты (2)</tspan><tspan x="128" y="51.5">Эффект: Астроинженерия +2</tspan></text></g>
<g id="r15c5" transform="translate(1212,1365.2)"><use href="#s-rect" class="fg sb"/><text class="t"><tspan x="128" y="14.5">Полная автономность</tspan><tspan x="128" y="28.5">Сложность: 6</tspan><tspan x="128" y="42.5">Эффект: :все звездолёты не имеют экипажа</tspan><tspan x="128" y="56.5">и не приносят Осуждения при потере</tspan></text></g>
<g id="r15c6" transform="translate(1493,1365.2)"><use href="#s-rect" class="fg sb"/><text class="t"><tspan x="128" y="23.5">Всеобщее цифровое бессмертие</tspan><tspan x="128" y="37.5">Сложность: 6</tspan><tspan x="128" y="51.5">Эффект: Общество +1</tspan></text></g>
<g id="r15c7" transform="translate(1775,1365.2)"><use href="#s-para" class="fg sr"/><text class="t"><tspan x="128" y="23.5">Лимб</tspan><tspan x="128" y="37.5">Сложность: 6, осуждение (2)</tspan><tspan x="128" y="51.5">Эффект: Общество +2</tspan></text></g>
<!-- Row 16 -->
<g id="r16c1" transform="translate(75,1455)"><use href="#s-rect" class="fg sb"/><text class="t"><tspan x="128" y="14.5">Струностроительство</tspan><tspan x="128" y="28.5">Сложность: 7</tspan><tspan x="128" y="42.5">Эффект: :утраивает максимум</tspan><tspan x="128" y="56.5">длины суперструн струноукладчика</tspan></text></g>
<g id="r16c2" transform="translate(358,1455)"><use href="#s-rect" class="fg sb"/><text class="t"><tspan x="128" y="23.5">Планковская слизь</tspan><tspan x="128" y="37.5">Сложность: 70</tspan><tspan x="128" y="51.5">Эффект: победа</tspan></text></g>
<g id="r16c3" transform="translate(645,1455)"><use href="#s-rect" class="fg sb"/><text class="t"><tspan x="128" y="14.5">Теория немыслимого</tspan><tspan x="128" y="28.5">Сложность: 7</tspan><tspan x="128" y="42.5">Эффект: Аномалия +4, :можно определить</tspan><tspan x="128" y="56.5">цель прыжка через Врата Переброски</tspan></text></g>
<g id="r16c4" transform="translate(934,1455)"><use href="#s-rect" class="fg sb"/><text class="t"><tspan x="128" y="23.5">Трансцендентный ИИ</tspan><tspan x="128" y="37.5">Сложность: 7</tspan><tspan x="128" y="51.5">Эффект: Наука +7</tspan></text></g>
<g id="r16c5" transform="translate(1212,1455)"><use href="#s-rect" class="fg sb"/><text class="t"><tspan x="128" y="23.5">Предел Бремерманна</tspan><tspan x="128" y="37.5">Сложность: 7</tspan><tspan x="128" y="51.5">Эффект: Наука +2</tspan></text></g>
<g id="r16c6" transform="translate(1493,1455)"><use href="#s-para" class="fg sr"/><text class="t"><tspan x="128" y="23.5">Цифровой рай</tspan><tspan x="128" y="37.5">Сложность: 7</tspan><tspan x="128" y="51.5">Эффект: Общество +2</tspan></text></g>
<g id="r16c7" transform="translate(1775,1455)"><use href="#s-rect" class="fg sr"/><text class="t"><tspan x="128" y="14.5">Утилитарный туман</tspan><tspan x="128" y="28.5">Сложность: 5, наноматериалы (1)</tspan><tspan x="128" y="42.5">Эффект: Защита колонии +1,</tspan><tspan x="128" y="56.5">Общество +1, Контршпионаж +1</tspan></text></g>
</g>
</svg>
